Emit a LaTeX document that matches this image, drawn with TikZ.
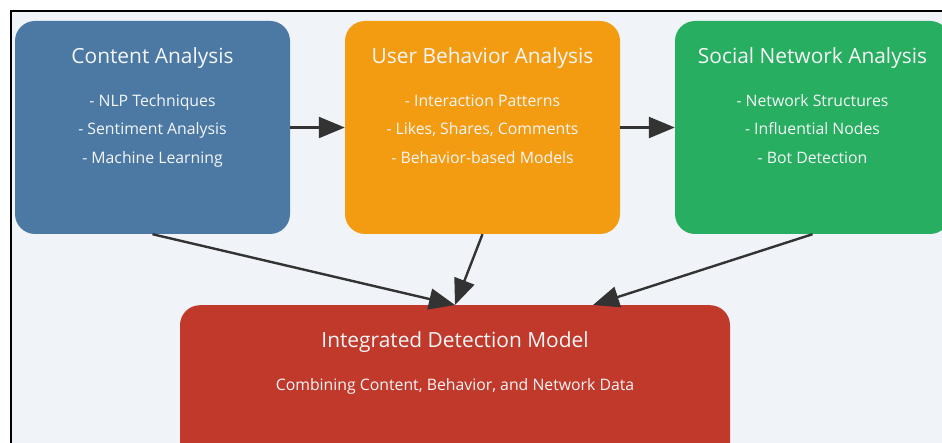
\documentclass[tikz,border=0pt]{standalone}
\usepackage{fontspec}
\setmainfont{Open Sans}
\usetikzlibrary{arrows.meta,calc}
\definecolor{canvas}{HTML}{F0F3F7}
\definecolor{contentblue}{HTML}{4C79A3}
\definecolor{behaviororange}{HTML}{F39C12}
\definecolor{networkgreen}{HTML}{27AE60}
\definecolor{modelred}{HTML}{C0392B}
\definecolor{arrowgray}{HTML}{333333}
\definecolor{labelwhite}{HTML}{F4F6F8}
\tikzset{
  panel/.style={rectangle, rounded corners=20pt, minimum width=275pt, minimum height=213pt, inner sep=0pt, draw=none},
  paneltitle/.style={anchor=base, text=labelwhite, font=\fontsize{20.9}{24}\selectfont},
  panelitem/.style={anchor=base, text=labelwhite, font=\fontsize{15.8}{18}\selectfont},
  flow/.style={draw=arrowgray, line width=2.4pt, -{Triangle[length=26pt,width=21pt]}},
}
\begin{document}
\begin{tikzpicture}[x=1pt,y=-1pt]
\useasboundingbox (0,0) rectangle (942,443);
\clip (0,0) rectangle (942,443);
% frame and canvas
\fill[canvas] (11,11.5) rectangle (950,450);
\draw[black, line width=2pt] (11,450) -- (11,11.5) -- (950,11.5);

% three analysis panels
\node[panel, fill=contentblue] (content) at (152.5,127.5) {};
\node[panel, fill=behaviororange] (behavior) at (482.5,127.5) {};
\node[panel, fill=networkgreen] (network) at (812.5,127.5) {};

\node[paneltitle] (contentT) at (152.5,63.5) {Content Analysis};
\node[panelitem] (contentA) at (152.5,106.5) {- NLP Techniques};
\node[panelitem] (contentB) at (152.5,135) {- Sentiment Analysis};
\node[panelitem] (contentC) at (152.5,163.5) {- Machine Learning};

\node[paneltitle] (behaviorT) at (482.5,63.5) {User Behavior Analysis};
\node[panelitem] (behaviorA) at (482.5,106.5) {- Interaction Patterns};
\node[panelitem] (behaviorB) at (482.5,135) {- Likes, Shares, Comments};
\node[panelitem] (behaviorC) at (482.5,163.5) {- Behavior-based Models};

\node[paneltitle] (networkT) at (812.5,63.5) {Social Network Analysis};
\node[panelitem] (networkA) at (812.5,106.5) {- Network Structures};
\node[panelitem] (networkB) at (812.5,135) {- Influential Nodes};
\node[panelitem] (networkC) at (812.5,163.5) {- Bot Detection};

% integrated model
\node[panel, fill=modelred, minimum width=550pt, minimum height=170pt, anchor=north] (model) at (455,305) {};
\node[paneltitle] (modelT) at (455,347.5) {Integrated Detection Model};
\node[panelitem] (modelS) at (455,390) {Combining Content, Behavior, and Network Data};
\coordinate (modelR) at (593,305);

% connectors
\draw[flow] (content.east) -- (behavior.west);
\draw[flow] (behavior.east) -- (network.west);
\draw[flow] (content.south) -- (model.north);
\draw[flow] (behavior.south) -- (model.north);
\draw[flow] (network.south) -- (modelR);
\end{tikzpicture}
\end{document}
